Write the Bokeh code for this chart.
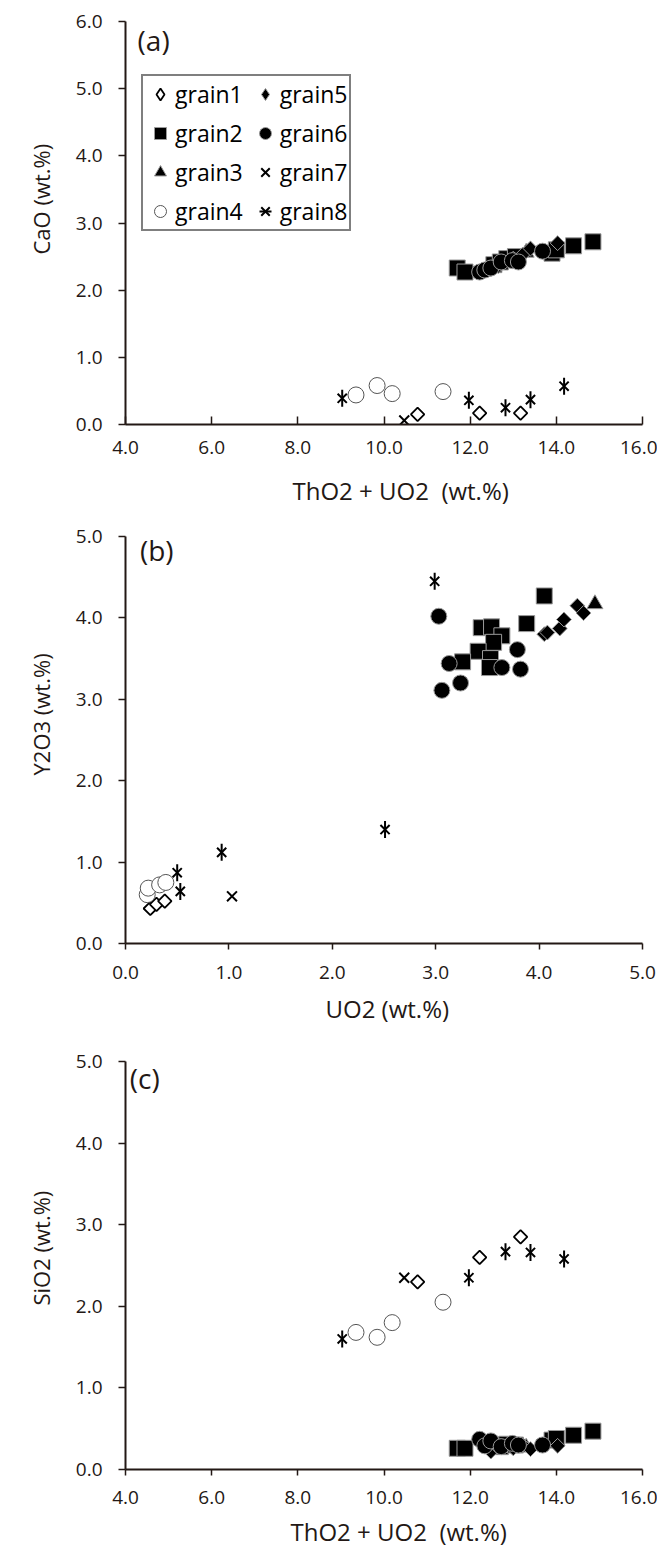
import math
from bokeh.plotting import figure
from bokeh.models import (Range1d, FixedTicker, PrintfTickFormatter, Label, Legend,
                          LegendItem, Title)
from bokeh.layouts import column
from bokeh.embed import file_html
from bokeh.resources import INLINE

# ---------------- data (wt.%) ----------------
grains = ["grain1", "grain2", "grain3", "grain4", "grain5", "grain6", "grain7", "grain8"]

# ThO2 + UO2 (x of panels a and c)
g1_thu = [10.78, 12.22, 13.17]
g2_thu = [11.70, 11.88, 12.55, 12.70, 12.85, 13.05, 13.90, 14.00, 14.40, 14.85]
g3_thu = [13.30]
g4_thu = [9.35, 9.84, 10.19, 11.37]
g5_thu = [12.48, 12.65, 13.00, 13.22, 13.40, 14.03]
g6_thu = [12.22, 12.34, 12.48, 12.72, 12.98, 13.12, 13.68]
g7_thu = [10.47]
g8_thu = [9.03, 11.97, 12.82, 13.40, 14.18]

# CaO (panel a)
g1_cao = [0.15, 0.17, 0.17]
g2_cao = [2.33, 2.27, 2.38, 2.42, 2.47, 2.50, 2.55, 2.60, 2.66, 2.72]
g3_cao = [2.56]
g4_cao = [0.44, 0.58, 0.46, 0.49]
g5_cao = [2.31, 2.36, 2.47, 2.53, 2.62, 2.70]
g6_cao = [2.27, 2.30, 2.33, 2.42, 2.44, 2.42, 2.58]
g7_cao = [0.06]
g8_cao = [0.39, 0.36, 0.25, 0.37, 0.57]

# UO2 (x of panel b)
g1_uo2 = [0.24, 0.30, 0.38]
g2_uo2 = [4.05, 3.88, 3.44, 3.54, 3.64, 3.56, 3.41, 3.53, 3.26, 3.52]
g3_uo2 = [4.54]
g4_uo2 = [0.21, 0.22, 0.33, 0.39]
g5_uo2 = [4.05, 4.08, 4.20, 4.24, 4.37, 4.43]
g6_uo2 = [3.03, 3.13, 3.06, 3.24, 3.79, 3.64, 3.82]
g7_uo2 = [1.03]
g8_uo2 = [0.50, 0.53, 0.93, 2.51, 2.99]

# Y2O3 (panel b)
g1_y2o3 = [0.43, 0.48, 0.52]
g2_y2o3 = [4.27, 3.93, 3.88, 3.89, 3.78, 3.70, 3.59, 3.50, 3.46, 3.39]
g3_y2o3 = [4.17]
g4_y2o3 = [0.60, 0.68, 0.72, 0.75]
g5_y2o3 = [3.80, 3.82, 3.87, 3.98, 4.15, 4.06]
g6_y2o3 = [4.02, 3.44, 3.11, 3.20, 3.61, 3.39, 3.37]
g7_y2o3 = [0.58]
g8_y2o3 = [0.87, 0.64, 1.12, 1.40, 4.45]

# SiO2 (panel c)
g1_sio2 = [2.30, 2.60, 2.85]
g2_sio2 = [0.26, 0.26, 0.30, 0.28, 0.31, 0.30, 0.36, 0.38, 0.42, 0.47]
g3_sio2 = [0.27]
g4_sio2 = [1.68, 1.62, 1.80, 2.05]
g5_sio2 = [0.22, 0.27, 0.26, 0.30, 0.25, 0.29]
g6_sio2 = [0.37, 0.29, 0.35, 0.28, 0.32, 0.30, 0.30]
g7_sio2 = [2.35]
g8_sio2 = [1.60, 2.35, 2.67, 2.66, 2.58]

thu_ticks = [4, 6, 8, 10, 12, 14, 16]
uo2_ticks = [0, 1, 2, 3, 4, 5]
cao_ticks = [0, 1, 2, 3, 4, 5, 6]
five_ticks = [0, 1, 2, 3, 4, 5]

FONT = "Open Sans"
INK = "#231815"
EDGE = "#9a9a9a"
NB2 = "\u00a0\u00a0"


def make_fig(height, left, right, top, bottom, xr, yr, xt, yt, x_in, x_std):
    p = figure(width=657, height=height, x_range=Range1d(*xr), y_range=Range1d(*yr),
               output_backend="svg", toolbar_location=None,
               min_border_left=left, min_border_right=right,
               min_border_top=top, min_border_bottom=bottom)
    p.grid.visible = False
    p.outline_line_color = None
    p.xaxis.ticker = FixedTicker(ticks=xt)
    p.yaxis.ticker = FixedTicker(ticks=yt)
    for ax in (p.xaxis[0], p.yaxis[0]):
        ax.axis_line_width = 2
        ax.axis_line_color = INK
        ax.major_tick_line_color = INK
        ax.major_tick_line_width = 1.5
        ax.minor_tick_line_color = None
        ax.major_label_text_font = FONT
        ax.major_label_text_font_size = "19px"
        ax.major_label_text_color = INK
        ax.formatter = PrintfTickFormatter(format="%.1f")
    p.yaxis.major_tick_in = 0
    p.yaxis.major_tick_out = 7
    p.yaxis.major_label_standoff = 16
    if x_in:
        p.xaxis.major_tick_in = 8
        p.xaxis.major_tick_out = 0
    else:
        p.xaxis.major_tick_in = 0
        p.xaxis.major_tick_out = 6
    p.xaxis.major_label_standoff = x_std
    return p


def titles(p, xtext, xoff, xstd, ytext, yoff, ystd):
    p.add_layout(Title(text=xtext, align="left", offset=xoff, standoff=xstd,
                       vertical_align="bottom", text_font=FONT, text_font_size="24px",
                       text_font_style="normal", text_color=INK), "below")
    p.add_layout(Title(text=ytext, align="left", offset=yoff, standoff=ystd,
                       vertical_align="top", text_font=FONT, text_font_size="22px",
                       text_font_style="normal", text_color=INK), "left")


def draw(p, xs, ys):
    r = {}
    r["grain2"] = [p.scatter(xs[1], ys[1], marker="square", size=16, fill_color="black",
                             line_color=EDGE, line_width=1)]
    r["grain3"] = [p.scatter(xs[2], ys[2], marker="triangle", size=16, fill_color="black",
                             line_color=EDGE, line_width=1)]
    r["grain5"] = [p.scatter(xs[4], ys[4], marker="square", angle=math.pi / 4, size=10.5,
                             fill_color="black", line_color=EDGE, line_width=1)]
    r["grain6"] = [p.scatter(xs[5], ys[5], marker="circle", size=16, fill_color="black",
                             line_color=EDGE, line_width=1)]
    r["grain1"] = [p.scatter(xs[0], ys[0], marker="square", angle=math.pi / 4, size=9.5,
                             fill_color="white", line_color="black", line_width=1.8)]
    r["grain4"] = [p.scatter(xs[3], ys[3], marker="circle", size=16, fill_color="white",
                             line_color="#555555", line_width=1)]
    r["grain7"] = [p.scatter(xs[6], ys[6], marker="x", size=14, line_color="black", line_width=2)]
    r["grain8"] = [p.scatter(xs[7], ys[7], marker="x", size=13, line_color="black", line_width=2),
                   p.scatter(xs[7], ys[7], marker="dash", angle=math.pi / 2, size=17,
                             line_color="black", line_width=2)]
    return r


def panel_label(p, x, y, s):
    p.add_layout(Label(x=x, y=y, text=s, text_font=FONT, text_font_size="28px",
                       text_color=INK, text_align="left", text_baseline="alphabetic"))


# ---------------- panel (a) ----------------
pa = make_fig(524, 121, 14, 21, 100, (4, 16), (0, 6), thu_ticks, cao_ticks, True, 16)
titles(pa, "ThO2 + UO2" + NB2 + "(wt.%)", 167, 30, "CaO (wt.%)", 170, 30)
xs_a = [g1_thu, g2_thu, g3_thu, g4_thu, g5_thu, g6_thu, g7_thu, g8_thu]
ys_a = [g1_cao, g2_cao, g3_cao, g4_cao, g5_cao, g6_cao, g7_cao, g8_cao]
ra = draw(pa, xs_a, ys_a)
# legend symbols for the diamonds (hidden renderers, shown only in the legend)
ra["grain1"] = [pa.scatter(xs_a[0], ys_a[0], marker="diamond", size=10, fill_color="white",
                           line_color="black", line_width=1.8, visible=False)]
ra["grain5"] = [pa.scatter(xs_a[4], ys_a[4], marker="diamond", size=10, fill_color="black",
                           line_color=EDGE, line_width=1, visible=False)]
items = [LegendItem(label=g, renderers=ra[g]) for g in grains]
leg = Legend(items=items, location=(16, 193), orientation="vertical", nrows=4, ncols=2,
             label_text_font=FONT, label_text_font_size="23px", label_text_color="black",
             glyph_width=30, glyph_height=30, label_standoff=0, spacing=7, padding=2,
             border_line_color="black", border_line_width=2.5, background_fill_alpha=1.0,
             margin=0, click_policy="none")
pa.add_layout(leg)
panel_label(pa, 4.28, 5.73, "(a)")

# ---------------- panel (b) ----------------
pb = make_fig(511, 125, 5, 12, 92, (0, 5), (0, 5), uo2_ticks, five_ticks, False, 16)
titles(pb, "UO2 (wt.%)", 200, 16, "Y2O3 (wt.%)", 168, 30)
draw(pb, [g1_uo2, g2_uo2, g3_uo2, g4_uo2, g5_uo2, g6_uo2, g7_uo2, g8_uo2],
     [g1_y2o3, g2_y2o3, g3_y2o3, g4_y2o3, g5_y2o3, g6_y2o3, g7_y2o3, g8_y2o3])
panel_label(pb, 0.14, 4.84, "(b)")

# ---------------- panel (c) ----------------
pc = make_fig(522, 120, 15, 26, 88, (4, 16), (0, 5), thu_ticks, five_ticks, False, 15)
titles(pc, "ThO2 + UO2" + NB2 + "(wt.%)", 165, 13, "SiO2 (wt.%)", 164, 30)
draw(pc, [g1_thu, g2_thu, g3_thu, g4_thu, g5_thu, g6_thu, g7_thu, g8_thu],
     [g1_sio2, g2_sio2, g3_sio2, g4_sio2, g5_sio2, g6_sio2, g7_sio2, g8_sio2])
panel_label(pc, 4.10, 4.80, "(c)")

layout = column(pa, pb, pc, spacing=0)
open("out.html", "w").write(file_html(layout, INLINE))
